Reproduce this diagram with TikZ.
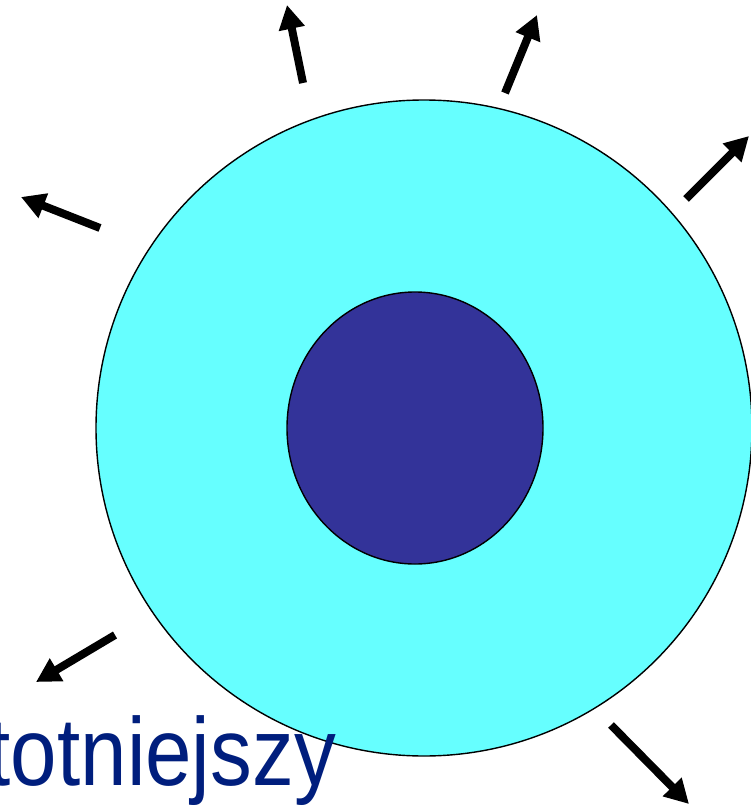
\documentclass[tikz,border=0pt]{standalone}
\usepackage{fontspec}
\setmainfont{Liberation Sans}
\usetikzlibrary{arrows.meta}
\definecolor{shellcyan}{HTML}{66FFFF}
\definecolor{coreblue}{HTML}{333399}
\definecolor{labelblue}{RGB}{0,30,125}
\tikzset{
  ray/.style={line width=8pt,-{Triangle[length=24pt,width=25pt]}},
}
\begin{document}
\begin{tikzpicture}[x=1pt,y=-1pt]
            \useasboundingbox (0,0) rectangle (751,808);
            \coordinate (O) at (424,428);

            \filldraw[fill=shellcyan,line width=1.4pt] (O) circle (328);
            \filldraw[fill=coreblue,line width=1.4pt] (415,428) ellipse (128 and 136);

            \node[anchor=base east,inner sep=0pt,text=labelblue,yscale=1.155]
                (label) at (336,785) {\fontsize{83.5}{88}\selectfont totniejszy};

            \coordinate (A1) at (303,83);  \coordinate (B1) at (287,5);
            \coordinate (A2) at (505,93);  \coordinate (B2) at (537,15);
            \coordinate (A3) at (686,199); \coordinate (B3) at (749,136);
            \coordinate (A4) at (100,228); \coordinate (B4) at (21,197);
            \coordinate (A5) at (115,635); \coordinate (B5) at (36,682);
            \coordinate (A6) at (611,725); \coordinate (B6) at (689,804);

            \draw[ray] (A1)--(B1);
            \draw[ray] (A2)--(B2);
            \draw[ray] (A3)--(B3);
            \draw[ray] (A4)--(B4);
            \draw[ray] (A5)--(B5);
            \draw[ray] (A6)--(B6);
        \end{tikzpicture}
\end{document}
